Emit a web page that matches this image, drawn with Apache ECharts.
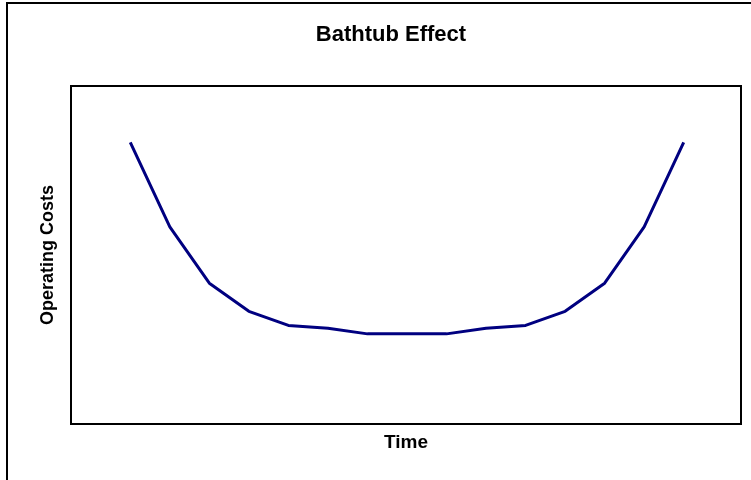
<!DOCTYPE html>
<html>
<head>
<meta charset="utf-8">
<script src="https://cdn.jsdelivr.net/npm/echarts@6/dist/echarts.min.js"></script>
<style>
  html, body { margin: 0; padding: 0; background: #fff; }
  #main { width: 751px; height: 480px; }
</style>
</head>
<body>
<div id="main"></div>
<script>
// time steps and operating cost values (axis 0..120)
const timeSteps = [1, 2, 3, 4, 5, 6, 7, 8, 9, 10, 11, 12, 13, 14, 15];
const operatingCosts = [100, 70, 50, 40, 35, 34, 32, 32, 32, 34, 35, 40, 50, 70, 100];

const chart = echarts.init(document.getElementById("main"));

const option = {
  backgroundColor: "#fff",
  animation: false,
  textStyle: { fontFamily: "Liberation Sans, Arial, sans-serif" },
  title: {
    text: "Bathtub Effect",
    left: 386,
    top: 19,
    textAlign: "center",
    textStyle: { fontSize: 22, fontWeight: "bold", color: "#000" },
  },
  graphic: [
    {
      // outer chart frame, runs off the right and bottom edge
      type: "rect",
      shape: { x: 7, y: 3, width: 800, height: 520 },
      style: { fill: null, stroke: "#000", lineWidth: 2 },
      silent: true,
    },
  ],
  grid: {
    left: 71,
    right: 10,
    top: 86,
    bottom: 56,
    show: true,
    borderColor: "#000",
    borderWidth: 2,
    backgroundColor: "#fff",
  },
  xAxis: {
    type: "value",
    min: -0.5,
    max: 16.45,
    name: "Time",
    nameLocation: "middle",
    nameGap: 9,
    nameTextStyle: { fontSize: 19, fontWeight: "bold", color: "#000", verticalAlign: "top" },
    axisLine: { show: false },
    axisTick: { show: false },
    axisLabel: { show: false },
    splitLine: { show: false },
  },
  yAxis: {
    type: "value",
    min: 0,
    max: 120,
    name: "Operating Costs",
    nameLocation: "middle",
    nameGap: 14,
    nameTextStyle: { fontSize: 18, fontWeight: "bold", color: "#000" },
    axisLine: { show: false },
    axisTick: { show: false },
    axisLabel: { show: false },
    splitLine: { show: false },
  },
  series: [
    {
      type: "line",
      data: timeSteps.map((t, i) => [t, operatingCosts[i]]),
      showSymbol: false,
      lineStyle: { color: "#000080", width: 3 },
    },
  ],
};

chart.setOption(option);
</script>
</body>
</html>
